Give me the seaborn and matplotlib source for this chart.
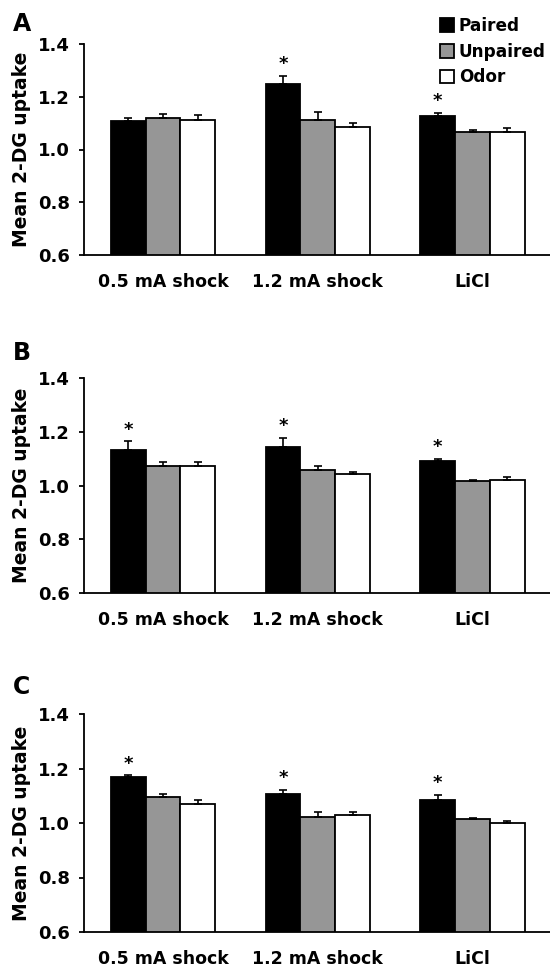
import numpy as np
import pandas as pd
import matplotlib
matplotlib.use("Agg")
import matplotlib.pyplot as plt
from matplotlib.container import BarContainer
import seaborn as sns

# conditions on the x axis and the three groups (hue)
categories = ["0.5 mA shock", "1.2 mA shock", "LiCl"]
groups = ["Paired", "Unpaired", "Odor"]

# mean 2-DG uptake, rows = groups, cols = categories
means_a = [[1.109, 1.248, 1.128],
           [1.118, 1.111, 1.066],
           [1.113, 1.086, 1.068]]
sem_a = [[0.012, 0.032, 0.010],
         [0.017, 0.030, 0.008],
         [0.016, 0.015, 0.012]]

means_b = [[1.133, 1.145, 1.091],
           [1.071, 1.057, 1.017],
           [1.071, 1.042, 1.019]]
sem_b = [[0.031, 0.032, 0.009],
         [0.015, 0.015, 0.004],
         [0.015, 0.009, 0.013]]

means_c = [[1.167, 1.106, 1.084],
           [1.095, 1.022, 1.015],
           [1.070, 1.031, 1.001]]
sem_c = [[0.008, 0.016, 0.020],
         [0.010, 0.018, 0.005],
         [0.016, 0.009, 0.008]]

# significance stars above the Paired bars
stars_a = [False, True, True]
stars_b = [True, True, True]
stars_c = [True, True, True]

panel_labels = ["A", "B", "C"]
palette = {"Paired": "#000000", "Unpaired": "#969696", "Odor": "#ffffff"}

sns.set_theme(style="white")
plt.rcParams["font.family"] = ["DejaVu Sans"]
plt.rcParams["font.weight"] = "bold"
plt.rcParams["text.color"] = "black"
plt.rcParams["xtick.color"] = "black"
plt.rcParams["ytick.color"] = "black"
plt.rcParams["axes.labelcolor"] = "black"

W, H = 550, 968
fig = plt.figure(figsize=(W / 100, H / 100), dpi=100)

# axes boxes in pixels: (left, top, bottom)
boxes = [(84, 44, 255), (84, 378, 593), (84, 714, 932)]
letter_y = [24, 353, 687]

panels = [(means_a, sem_a, stars_a), (means_b, sem_b, stars_b), (means_c, sem_c, stars_c)]

for i, (means, sems, stars) in enumerate(panels):
    left, top_px, bot_px = boxes[i]
    ax = fig.add_axes([left / W, 1 - bot_px / H, (W - left) / W, (bot_px - top_px) / H])
    df = pd.DataFrame({
        "condition": np.tile(categories, len(groups)),
        "group": np.repeat(groups, len(categories)),
        "uptake": np.array(means).ravel(),
    })
    sns.barplot(data=df, x="condition", y="uptake", hue="group",
                order=categories, hue_order=groups, palette=palette,
                edgecolor="black", linewidth=1.3, width=0.674,
                errorbar=None, ax=ax, legend=(i == 0))

    # upper-only error bars at the bar centres
    bar_sets = [c for c in ax.containers if isinstance(c, BarContainer)]
    for g, cont in enumerate(bar_sets):
        for c, bar in enumerate(cont.patches):
            xc = bar.get_x() + bar.get_width() / 2
            top = bar.get_height() + bar.get_y()
            err = sems[g][c]
            ax.errorbar(xc, top, yerr=[[0], [err]], fmt="none", ecolor="black",
                        elinewidth=1.2, capsize=3.2, capthick=1.2, zorder=3)
            if g == 0 and stars[c]:
                ax.annotate("*", (xc, top + err), xytext=(0, 2),
                            textcoords="offset points", ha="center", va="bottom",
                            fontsize=13, fontweight="bold")

    ax.set_ylim(0.6, 1.4)
    ax.set_xlim(-0.51, 2.50)
    ticks = [0.6, 0.8, 1.0, 1.2, 1.4]
    ax.set_yticks(ticks)
    ax.set_yticklabels([f"{v:.1f}" for v in ticks])
    ax.set_xlabel("")
    ax.set_ylabel("Mean 2-DG uptake", fontsize=13.5, fontweight="bold", labelpad=5)
    ax.tick_params(axis="y", direction="out", length=3.6, width=1.3, labelsize=13,
                   left=True, pad=6.5)
    ax.tick_params(axis="x", length=0, labelsize=12.5, pad=13)
    for lab in ax.get_xticklabels() + ax.get_yticklabels():
        lab.set_fontweight("bold")
    for side in ["top", "right"]:
        ax.spines[side].set_visible(False)
    for side in ["left", "bottom"]:
        ax.spines[side].set_color("black")
        ax.spines[side].set_linewidth(1.3)
    ax.patch.set_alpha(0)

    if i == 0:
        handles, labels = ax.get_legend_handles_labels()
        ax.get_legend().remove()
        fig.legend(handles, labels, loc="upper left",
                   bbox_to_anchor=(440 / W, 1 - 17 / H),
                   frameon=False, handlelength=0.85, handleheight=0.85,
                   handletextpad=0.25, labelspacing=0.45, borderpad=0,
                   borderaxespad=0, prop={"weight": "bold", "size": 12.2})

    fig.text(13 / W, 1 - letter_y[i] / H, panel_labels[i], ha="left",
             va="center", fontsize=17, fontweight="bold")

fig.savefig("out.png", dpi=100)
